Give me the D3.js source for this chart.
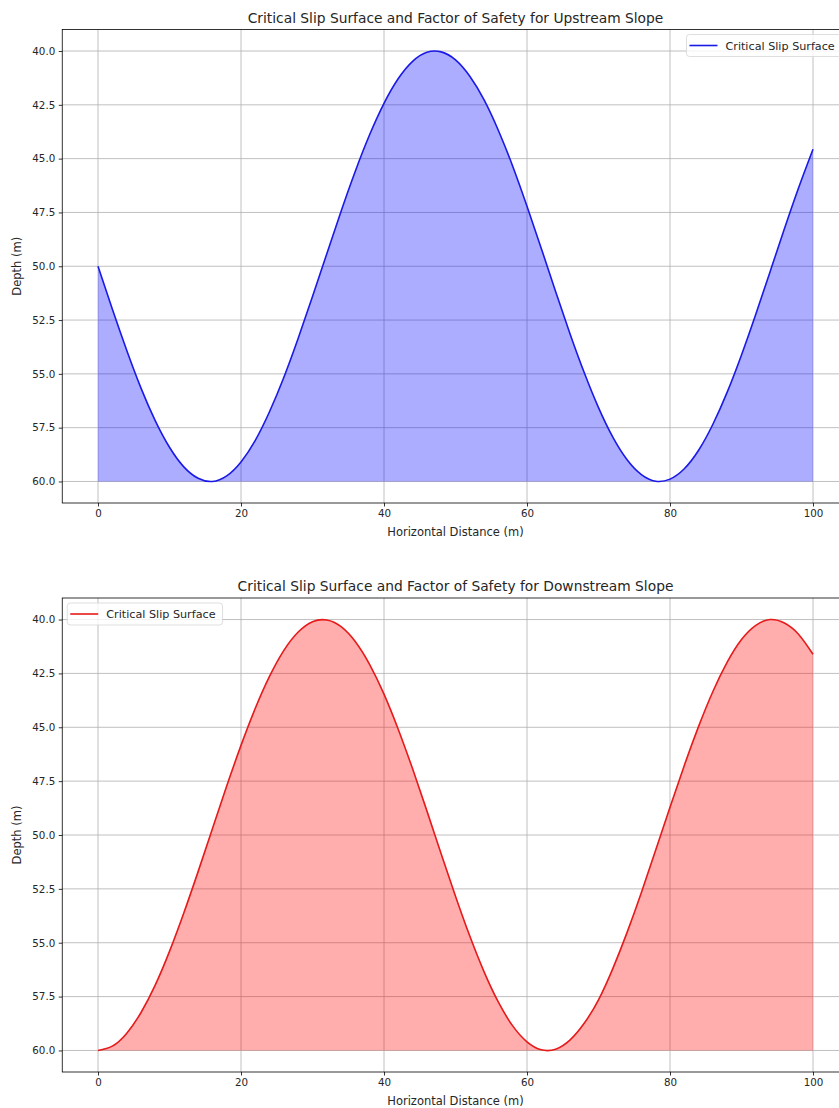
<!DOCTYPE html>
<html>
<head>
<meta charset="utf-8">
<script src="https://cdn.jsdelivr.net/npm/d3@7"></script>
<style>
  html, body { margin: 0; padding: 0; background: #fff; }
  svg { display: block; font-family: "DejaVu Sans", sans-serif; }
</style>
</head>
<body>
<svg id="fig" width="839" height="1108"></svg>
<script>
// Horizontal distance samples (m)
const distance = [0,2,4,6,8,10,12,14,16,18,20,22,24,26,28,30,32,34,36,38,40,42,44,46,48,50,
  52,54,56,58,60,62,64,66,68,70,72,74,76,78,80,82,84,86,88,90,92,94,96,98,100];

// Slip surface depth along the upstream slope (m)
const upstreamDepth = [50.00,51.99,53.89,55.65,57.17,58.41,59.32,59.85,60.00,59.74,59.09,58.09,
  56.75,55.16,53.35,51.41,49.42,47.44,45.57,43.88,42.43,41.28,40.48,40.06,40.04,40.41,41.17,
  42.27,43.69,45.35,47.21,49.17,51.17,53.12,54.94,56.57,57.94,58.99,59.68,59.99,59.89,59.41,
  58.55,57.34,55.85,54.12,52.23,50.25,48.26,46.34,44.56];

// Slip surface depth along the downstream slope (m)
const downstreamDepth = [60.00,59.80,59.21,58.25,56.97,55.40,53.62,51.70,49.71,47.73,45.84,44.12,
  42.63,41.43,40.58,40.10,40.02,40.33,41.03,42.09,43.46,45.10,46.93,48.88,50.88,52.84,54.69,
  56.35,57.76,58.86,59.60,59.97,59.94,59.52,58.74,57.65,56.20,54.52,52.67,50.70,48.71,46.77,
  44.96,43.34,41.98,40.93,40.27,40.00,40.16,40.69,41.61];

const xTicks = [0, 20, 40, 60, 80, 100];
const yTicks = [40.0, 42.5, 45.0, 47.5, 50.0, 52.5, 55.0, 57.5, 60.0];
const baseDepth = 60;

const panels = [
  { title: "Critical Slip Surface and Factor of Safety for Upstream Slope",
    depth: upstreamDepth, line: "#1a1ae6", fill: "rgba(0,0,255,0.32)",
    top: 29.5, bottom: 503, legend: "right" },
  { title: "Critical Slip Surface and Factor of Safety for Downstream Slope",
    depth: downstreamDepth, line: "#e61a1a", fill: "rgba(255,0,0,0.32)",
    top: 598, bottom: 1072, legend: "left" }
];

const svg = d3.select("#fig");
const left = 62.25, right = 848.75;
const textColor = "#262626";

panels.forEach(p => {
  const x = d3.scaleLinear().domain([-5, 105]).range([left, right]);
  const y = d3.scaleLinear().domain([39, 61]).range([p.top, p.bottom]);
  const g = svg.append("g");
  const pts = distance.map((d, i) => [d, p.depth[i]]);

  // grid
  g.append("g").selectAll("line").data(xTicks).join("line")
    .attr("x1", d => x(d)).attr("x2", d => x(d))
    .attr("y1", p.top).attr("y2", p.bottom)
    .attr("stroke", "#b0b0b0").attr("stroke-width", 0.8);
  g.append("g").selectAll("line").data(yTicks).join("line")
    .attr("x1", left).attr("x2", right)
    .attr("y1", d => y(d)).attr("y2", d => y(d))
    .attr("stroke", "#b0b0b0").attr("stroke-width", 0.8);

  // fill between surface and base depth
  const area = d3.area().curve(d3.curveNatural)
    .x(d => x(d[0])).y0(y(baseDepth)).y1(d => y(d[1]));
  g.append("path").datum(pts).attr("d", area).attr("fill", p.fill);

  const line = d3.line().curve(d3.curveNatural)
    .x(d => x(d[0])).y(d => y(d[1]));
  g.append("path").datum(pts).attr("d", line)
    .attr("fill", "none").attr("stroke", p.line).attr("stroke-width", 1.6);

  // axes
  const xAxis = d3.axisBottom(x).tickValues(xTicks).tickFormat(d3.format("d"))
    .tickSize(3.5).tickPadding(3.5);
  const gx = g.append("g").attr("transform", `translate(0,${p.bottom})`).call(xAxis);
  const yAxis = d3.axisLeft(y).tickValues(yTicks).tickFormat(d3.format(".1f"))
    .tickSize(3.5).tickPadding(3.5);
  const gy = g.append("g").attr("transform", `translate(${left},0)`).call(yAxis);
  [gx, gy].forEach(a => {
    a.select(".domain").remove();
    a.selectAll(".tick line").attr("stroke", "#000").attr("stroke-width", 0.8);
    a.selectAll(".tick text").attr("fill", textColor).attr("font-size", 10.3)
      .attr("font-family", "DejaVu Sans, sans-serif");
  });

  // spines
  g.append("rect").attr("x", left).attr("y", p.top)
    .attr("width", right - left).attr("height", p.bottom - p.top)
    .attr("fill", "none").attr("stroke", "#000").attr("stroke-width", 0.8);

  // titles and labels
  g.append("text").attr("x", (left + right) / 2).attr("y", p.top - 7)
    .attr("text-anchor", "middle").attr("font-size", 13.8).attr("fill", textColor)
    .text(p.title);
  g.append("text").attr("x", (left + right) / 2).attr("y", p.bottom + 33)
    .attr("text-anchor", "middle").attr("font-size", 11.5).attr("fill", textColor)
    .text("Horizontal Distance (m)");
  g.append("text")
    .attr("transform", `translate(21,${(p.top + p.bottom) / 2}) rotate(-90)`)
    .attr("text-anchor", "middle").attr("font-size", 11.5).attr("fill", textColor)
    .text("Depth (m)");

  // legend
  const lg = g.append("g");
  const box = lg.append("rect");
  const label = lg.append("text").attr("font-size", 11.2).attr("fill", textColor)
    .text("Critical Slip Surface");
  const tw = label.node().getComputedTextLength();
  const bw = 39 + tw + 7, bh = 22;
  const bx = p.legend === "right" ? right - 7 - bw : left + 5;
  const by = p.top + 5;
  box.attr("x", bx).attr("y", by).attr("width", bw).attr("height", bh)
    .attr("rx", 3).attr("fill", "rgba(255,255,255,0.8)")
    .attr("stroke", "#d6d6d6").attr("stroke-width", 0.8);
  lg.append("line").attr("x1", bx + 3).attr("x2", bx + 31)
    .attr("y1", by + bh / 2).attr("y2", by + bh / 2)
    .attr("stroke", p.line).attr("stroke-width", 1.6);
  label.attr("x", bx + 39).attr("y", by + bh / 2 + 4);
});
</script>
</body>
</html>
